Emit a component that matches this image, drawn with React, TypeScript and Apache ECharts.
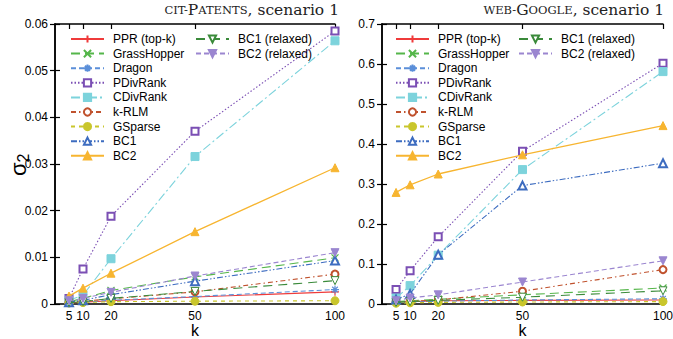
import React, { useEffect, useRef } from "react";
import * as echarts from "echarts";

const ks = [5, 10, 20, 50, 100];
const seriesNames = [
  "PPR (top-k)", "GrassHopper", "Dragon", "PDivRank", "CDivRank", "k-RLM",
  "GSparse", "BC1", "BC2", "BC1 (relaxed)", "BC2 (relaxed)",
];

// cit-Patents, scenario 1
const citPPR = [0.0002, 0.0004, 0.0007, 0.0015, 0.0026];
const citGrassHopper = [0.0005, 0.0012, 0.0029, 0.0058, 0.0099];
const citDragon = [0.0002, 0.0004, 0.0008, 0.0016, 0.0031];
const citPDivRank = [0.0012, 0.0075, 0.0188, 0.037, 0.0585];
const citCDivRank = [0.0008, 0.0019, 0.0097, 0.0316, 0.0564];
const citKRLM = [0.0003, 0.0006, 0.0011, 0.0026, 0.0064];
const citGSparse = [0.0002, 0.0003, 0.0005, 0.0006, 0.0007];
const citBC1 = [0.0004, 0.0008, 0.002, 0.0049, 0.0093];
const citBC2 = [0.0017, 0.0034, 0.0066, 0.0155, 0.0292];
const citBC1r = [0.0003, 0.0005, 0.0012, 0.0027, 0.005];
const citBC2r = [0.0007, 0.0012, 0.0025, 0.006, 0.011];

// web-Google, scenario 1
const webPPR = [0.005, 0.006, 0.008, 0.009, 0.01];
const webGrassHopper = [0.006, 0.008, 0.012, 0.023, 0.04];
const webDragon = [0.003, 0.005, 0.007, 0.01, 0.013];
const webPDivRank = [0.036, 0.083, 0.168, 0.382, 0.602];
const webCDivRank = [0.015, 0.046, 0.122, 0.336, 0.581];
const webKRLM = [0.005, 0.007, 0.01, 0.032, 0.086];
const webGSparse = [0.002, 0.003, 0.004, 0.005, 0.006];
const webBC1 = [0.011, 0.025, 0.123, 0.296, 0.352];
const webBC2 = [0.279, 0.298, 0.325, 0.373, 0.446];
const webBC1r = [0.004, 0.006, 0.009, 0.017, 0.033];
const webBC2r = [0.008, 0.015, 0.023, 0.055, 0.108];

const citData = [citPPR, citGrassHopper, citDragon, citPDivRank, citCDivRank, citKRLM, citGSparse, citBC1, citBC2, citBC1r, citBC2r];
const webData = [webPPR, webGrassHopper, webDragon, webPDivRank, webCDivRank, webKRLM, webGSparse, webBC1, webBC2, webBC1r, webBC2r];

const PLUS = "path://M0 5H10M5 0V10";
const CROSS = "path://M1 1L9 9M9 1L1 9";
const STAR = "path://M5 0V10M0 5H10M1.5 1.5L8.5 8.5M8.5 1.5L1.5 8.5";
const DTRI = "path://M0 0L10 0L5 9Z";

type St = { color: string; dash: any; symbol: string; empty?: boolean; stroke?: boolean; size: number };
const styles: St[] = [
  { color: "#ef3b3b", dash: "solid", symbol: PLUS, stroke: true, size: 8 },
  { color: "#55b64a", dash: [9, 5], symbol: CROSS, stroke: true, size: 7 },
  { color: "#5b8fd9", dash: [5, 3], symbol: STAR, stroke: true, size: 8 },
  { color: "#7b4fb4", dash: [1.5, 2], symbol: "emptyRect", size: 7 },
  { color: "#7dd3dc", dash: [9, 3, 2, 3], symbol: "rect", size: 8 },
  { color: "#c0522e", dash: [5, 3, 1.5, 3], symbol: "emptyCircle", size: 7 },
  { color: "#c9c62c", dash: [4, 4], symbol: "circle", size: 8 },
  { color: "#3d6cc0", dash: [6, 2, 1.5, 2, 1.5, 2], symbol: "emptyTriangle", size: 8 },
  { color: "#f7b530", dash: "solid", symbol: "triangle", size: 8 },
  { color: "#3a8a3a", dash: [9, 6], symbol: DTRI, empty: true, size: 8 },
  { color: "#9b86d0", dash: [5, 3], symbol: DTRI, size: 8 },
];

const FONT = "Liberation Sans";
const SERIF = "DejaVu Serif";

function makeSeries(data: number[][], xi: number, yi: number) {
  return data.map((vals, i) => {
    const s = styles[i];
    const itemStyle: any = { color: s.color, borderColor: s.color, borderWidth: 1 };
    if (s.stroke) { itemStyle.borderWidth = 1.2; }
    if (s.empty) { itemStyle.color = "#fff"; }
    return {
      name: seriesNames[i],
      type: "line",
      xAxisIndex: xi,
      yAxisIndex: yi,
      data: vals.map((v, j) => [ks[j], v]),
      symbol: s.symbol,
      symbolSize: s.size,
      showSymbol: true,
      lineStyle: { color: s.color, width: i === 8 ? 1.3 : 1.1, type: s.dash },
      itemStyle,
      emphasis: { disabled: true },
      z: 2 + i,
    };
  });
}

const fmt = (v: number) => (v === 0 ? "0" : String(+v.toFixed(3)));

function yAxes(max: number, interval: number, gi: number) {
  return [
    {
      type: "value", gridIndex: gi, min: 0, max, interval, position: "left",
      axisLine: { show: true, lineStyle: { color: "#000", width: 1.5 } },
      axisTick: { inside: true, length: 5, lineStyle: { color: "#000", width: 1.2 } },
      axisLabel: { color: "#000", fontFamily: FONT, fontSize: 12, margin: 7, formatter: fmt },
      splitLine: { show: false },
    },
    {
      type: "value", gridIndex: gi, min: 0, max, interval, position: "right",
      axisLine: { show: true, lineStyle: { color: "#000", width: 1.5 } },
      axisTick: { inside: true, length: 5, lineStyle: { color: "#000", width: 1.2 } },
      axisLabel: { show: false },
      splitLine: { show: false },
    },
  ];
}

function xAxes(gi: number) {
  return [
    {
      type: "value", gridIndex: gi, min: 0, max: 100, position: "bottom",
      name: "k", nameLocation: "middle", nameGap: 19, nameMoveOverlap: false,
      nameTextStyle: { color: "#000", fontFamily: FONT, fontSize: 16, lineHeight: 14 },
      axisLine: { show: true, onZero: false, lineStyle: { color: "#000", width: 1.5 } },
      axisTick: { inside: true, length: 5, customValues: ks, lineStyle: { color: "#000", width: 1.2 } },
      axisLabel: { color: "#000", fontFamily: FONT, fontSize: 12, lineHeight: 12, margin: 6, customValues: ks },
      splitLine: { show: false },
    },
    {
      type: "value", gridIndex: gi, min: 0, max: 100, position: "top",
      axisLine: { show: true, onZero: false, lineStyle: { color: "#000", width: 1.5 } },
      axisTick: { inside: true, length: 5, customValues: ks, lineStyle: { color: "#000", width: 1.2 } },
      axisLabel: { show: false },
      splitLine: { show: false },
    },
  ];
}

function legend(left: number, top: number, names: string[]) {
  return {
    orient: "vertical",
    left, top,
    padding: 0,
    data: names,
    itemWidth: 33,
    itemHeight: 9,
    itemGap: 0.6,
    selectedMode: false,
    textStyle: { color: "#000", fontFamily: FONT, fontSize: 12, lineHeight: 14, padding: [0, 0, 0, 4] },
  };
}

const col1 = seriesNames.slice(0, 9);
const col2 = seriesNames.slice(9);

function titleRich(a: string, b: string, c: string) {
  const base = { fontFamily: SERIF, fontWeight: "normal", color: "#222" };
  return {
    text: `{s|${a}}{b|${b}}{s|${c}}{n|, scenario 1}`,
    textStyle: {
      fontWeight: "normal",
      rich: {
        s: { ...base, fontSize: 11.5 },
        b: { ...base, fontSize: 15.5 },
        n: { ...base, fontSize: 15.5 },
      },
    },
  };
}

export default function App() {
  const ref = useRef<HTMLDivElement>(null);
  useEffect(() => {
    if (!ref.current) return;
    const chart = echarts.init(ref.current, null, { renderer: "svg" });
    const [yl0, yl1] = yAxes(0.06, 0.01, 0);
    const [yr0, yr1] = yAxes(0.7, 0.1, 1);
    const [xl0, xl1] = xAxes(0);
    const [xr0, xr1] = xAxes(1);
    chart.setOption({
      animation: false,
      backgroundColor: "#fff",
      title: [
        { ...titleRich("CIT-", "P", "ATENTS"), right: 334, top: 2, padding: 0 },
        { ...titleRich("WEB-", "G", "OOGLE"), right: 9, top: 2, padding: 0 },
      ],
      grid: [
        { left: 55, right: 338, top: 24, bottom: 35, containLabel: false, outerBoundsMode: "none" },
        { left: 382, right: 10, top: 24, bottom: 35, containLabel: false, outerBoundsMode: "none" },
      ],
      xAxis: [xl0, xr0, xl1, xr1],
      yAxis: [yl0, yr0, yl1, yr1],
      legend: [
        legend(70, 32, col1),
        legend(195, 32, col2),
        legend(395, 32, col1),
        legend(518, 32, col2),
      ],
      graphic: [
        {
          type: "text",
          x: 6,
          y: 176,
          rotation: Math.PI / 2,
          style: {
            text: "{a|σ}{b|2}",
            rich: {
              a: { fontFamily: FONT, fontSize: 22, fill: "#000" },
              b: { fontFamily: FONT, fontSize: 16, fill: "#000", padding: [9, 0, 0, 0] },
            },
          },
        },
      ],
      series: [...makeSeries(citData, 0, 0), ...makeSeries(webData, 1, 1)],
    });
    return () => chart.dispose();
  }, []);
  return (
    <div
      ref={ref}
      style={{ position: "fixed", left: 0, top: 0, width: 673, height: 339 }}
    />
  );
}
